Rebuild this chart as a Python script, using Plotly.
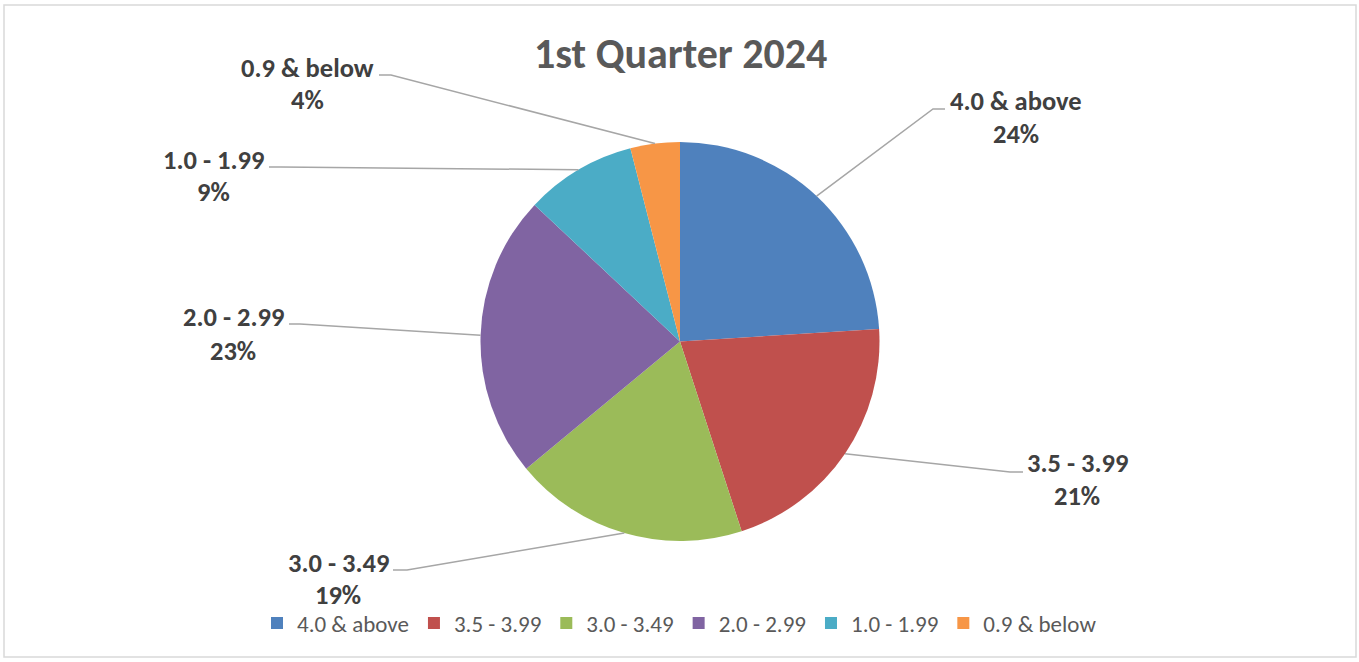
import math
import plotly.graph_objects as go

# Grade-point bands and their share of students
categories = ["4.0 &amp; above", "3.5 - 3.99", "3.0 - 3.49", "2.0 - 2.99", "1.0 - 1.99", "0.9 &amp; below"]
legend_names = ["4.0 & above", "3.5 - 3.99", "3.0 - 3.49", "2.0 - 2.99", "1.0 - 1.99", "0.9 & below"]
shares = [24, 21, 19, 23, 9, 4]
title_text = "1st Quarter 2024"

colors = ["#4f81bd", "#c0504d", "#9bbb59", "#8064a2", "#4bacc6", "#f79646"]

W, H = 1359, 662
# pie placement in pixels
CX, CY, R = 680, 341.5, 199.5

# label layout in pixels: leader end, elbow x, label centre x, name y, percent y
label_layout = [
    dict(end=(945, 109), elbow=933, cx=1016, ny=101, py=134),
    dict(end=(1023, 472), elbow=1010, cx=1077, ny=463, py=496),
    dict(end=(393, 570), elbow=407, cx=338, ny=563, py=595),
    dict(end=(289, 324), elbow=300, cx=233, ny=317, py=351),
    dict(end=(269, 167), elbow=281, cx=213, ny=160, py=192),
    dict(end=(379, 75), elbow=391, cx=307, ny=68, py=100),
]

FONT = "Carlito, Calibri, Lato, sans-serif"


def px(x):
    return x / W


def py(y):
    return 1 - y / H


fig = go.Figure(
    go.Pie(
        labels=legend_names,
        values=shares,
        sort=False,
        direction="clockwise",
        rotation=0,
        textinfo="none",
        hoverinfo="label+percent",
        marker=dict(colors=colors, line=dict(width=0)),
        domain=dict(x=[px(CX - R), px(CX + R)], y=[py(CY + R), py(CY - R)]),
    )
)

total = sum(shares)
shapes = []
annotations = []
cum = 0
for name, val, lay in zip(categories, shares, label_layout):
    mid = (cum + val / 2) / total
    cum += val
    theta = 2 * math.pi * mid
    sx = CX + R * math.sin(theta)
    sy = CY - R * math.cos(theta)
    ex, ey = lay["end"]
    path = f"M {px(sx)},{py(sy)} L {px(lay['elbow'])},{py(ey)} L {px(ex)},{py(ey)}"
    shapes.append(dict(type="path", xref="paper", yref="paper", path=path,
                       line=dict(color="#a6a6a6", width=1.5)))
    pct = round(100 * val / total)
    annotations.append(dict(text=f"<b>{name}</b>", x=px(lay["cx"]), y=py(lay["ny"]),
                            xref="paper", yref="paper", showarrow=False,
                            xanchor="center", yanchor="middle",
                            font=dict(family=FONT, size=26.5, color="#404040")))
    annotations.append(dict(text=f"<b>{pct}%</b>", x=px(lay["cx"]), y=py(lay["py"]),
                            xref="paper", yref="paper", showarrow=False,
                            xanchor="center", yanchor="middle",
                            font=dict(family=FONT, size=26.5, color="#404040")))

annotations.append(dict(text=f"<b>{title_text}</b>", x=px(680), y=py(53),
                        xref="paper", yref="paper", showarrow=False,
                        xanchor="center", yanchor="middle",
                        font=dict(family=FONT, size=42, color="#595959")))

# chart frame
shapes.append(dict(type="rect", xref="paper", yref="paper",
                   x0=px(4), x1=px(1356), y0=py(657), y1=py(5),
                   line=dict(color="#d9d9d9", width=1.5)))

fig.update_layout(
    width=W,
    height=H,
    margin=dict(l=0, r=0, t=0, b=0),
    paper_bgcolor="white",
    plot_bgcolor="white",
    shapes=shapes,
    annotations=annotations,
    showlegend=True,
    legend=dict(orientation="h", x=0.5, xanchor="center", y=py(623), yanchor="middle",
                font=dict(family=FONT, size=23, color="#595959"),
                itemwidth=30, tracegroupgap=0),
)

fig.write_html("out.html")
